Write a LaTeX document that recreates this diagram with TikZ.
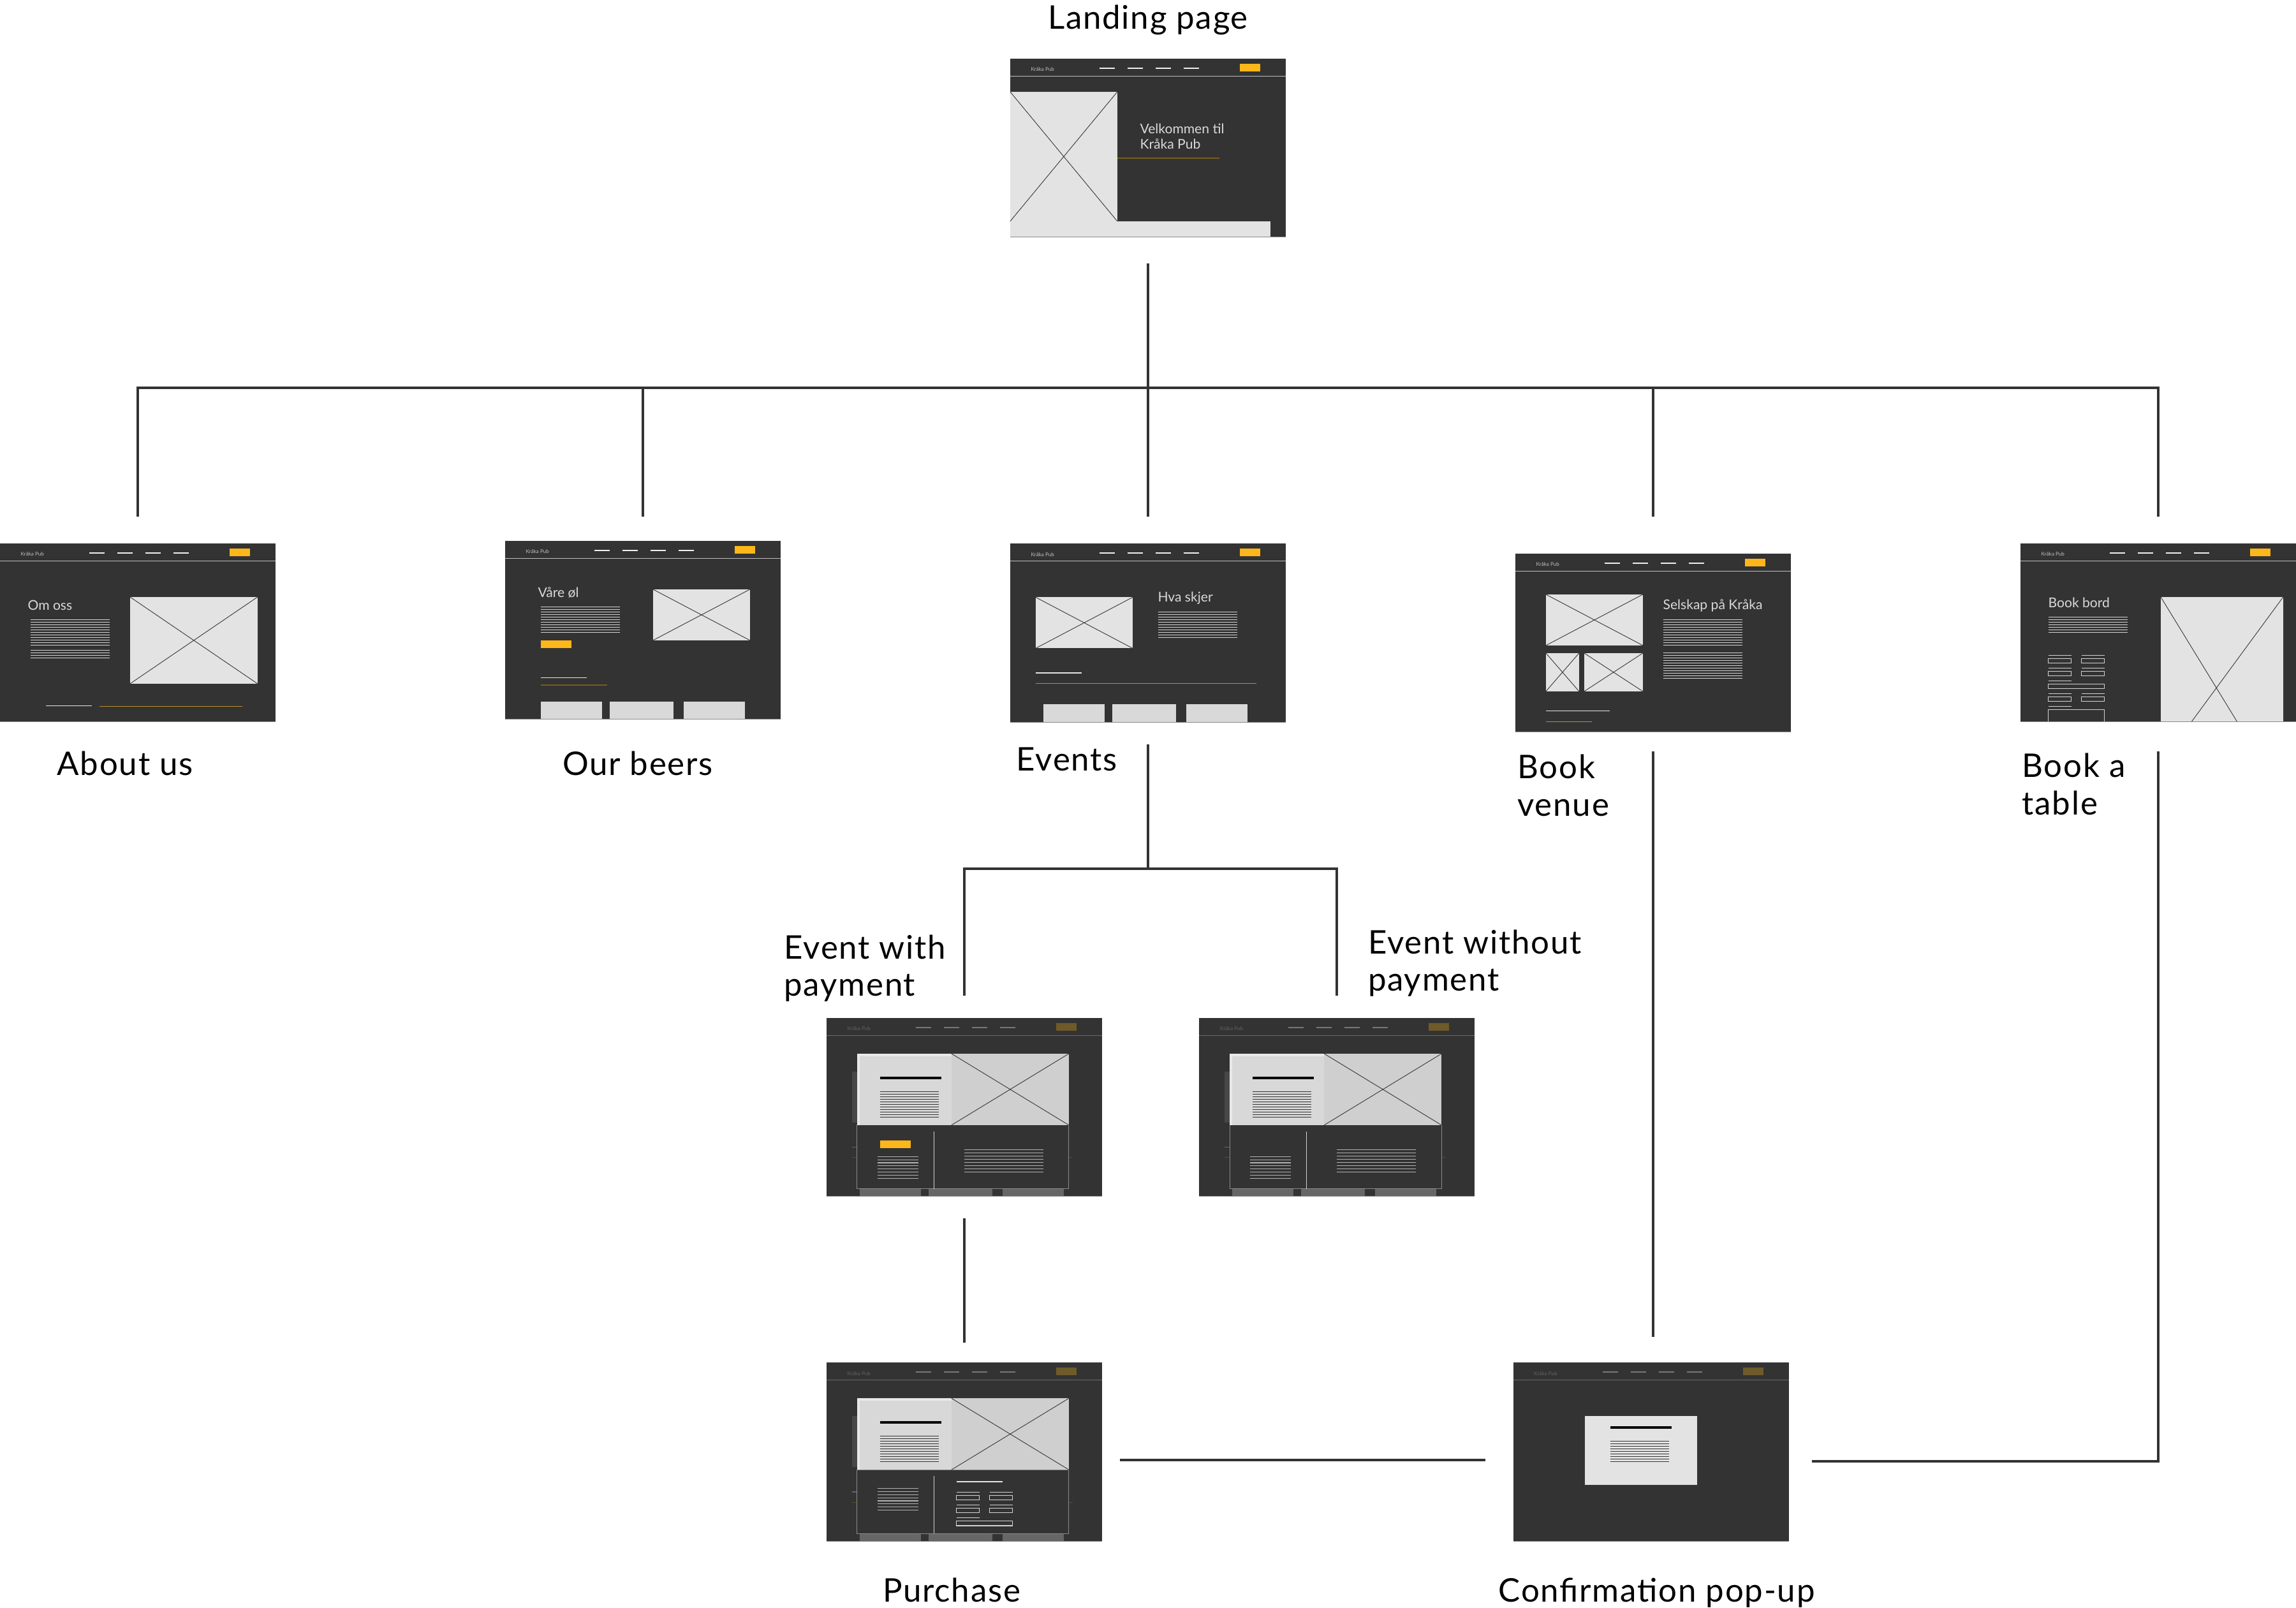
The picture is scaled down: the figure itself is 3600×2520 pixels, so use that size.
\documentclass[tikz,border=0pt]{standalone}
\usepackage{fontspec}
\setmainfont{Lato}
\newfontfamily\lblfont{Lato}[LetterSpace=3.5]
\usepackage{tikz}
\usetikzlibrary{positioning, calc}
\definecolor{wfbg}{HTML}{333333}
\definecolor{imgfill}{HTML}{E3E3E3}
\definecolor{boxfill}{HTML}{D9D9D9}
\definecolor{lightline}{HTML}{D4D4D4}
\definecolor{amber}{HTML}{FDB71A}
\definecolor{goldbright}{HTML}{B98B2B}
\definecolor{golddark}{HTML}{7A5C1F}
\definecolor{edgegray}{HTML}{8A8A8A}
\definecolor{linkgray}{HTML}{333333}
\definecolor{modalleft}{HTML}{D8D8D8}
\definecolor{modalright}{HTML}{CFCFCF}
\definecolor{modaledge}{HTML}{E8E8E8}
\definecolor{dimpanel}{HTML}{474747}
\definecolor{dimbox}{HTML}{666666}
\definecolor{dimgold}{HTML}{5E4B25}
\definecolor{dimamber}{HTML}{6E5A2A}

% nav bar colours: normal page / page behind a pop-up
\newcommand{\brightnav}{\colorlet{brandc}{black!25}\colorlet{menuc}{black!6}%
  \colorlet{btnc}{amber}\colorlet{sepc}{black!25}}
\newcommand{\dimnav}{\colorlet{brandc}{black!62}\colorlet{menuc}{black!53}%
  \colorlet{btnc}{dimamber}\colorlet{sepc}{black!58}}

% wireframe pieces (coordinates in px from the frame's top left corner)
\newcommand{\wfnav}[1]{%
  \node[brand] (#1-brand) at (32,17) {Kråka Pub};
  \foreach \mx in {140,184,228,272}
    \draw[menuc, line width=0.5pt] (\mx,14.7) -- ++(24,0);
  \fill[btnc] (360,8) rectangle (392,20);
  \draw[sepc, line width=0.25pt] (0,27.3) -- (432,27.3);
  \draw[edgegray, line width=0.3pt] (0,280) -- (432,280);
}
\newcommand{\ximg}[4]{%
  \fill[imgfill] (#1,#2) rectangle (#3,#4);
  \draw[xline] (#1,#2) -- (#3,#4) (#1,#4) -- (#3,#2);
}
\newcommand{\txtlines}[6][tline]{%
  \foreach \k in {1,...,#6}
    \draw[#1] (#2,{#4+(\k-1)*#5}) -- (#3,{#4+(\k-1)*#5});
}
\newcommand{\fieldpair}[2]{%
  \draw[fline] (#1,#2) -- ++(36,0) ({#1+52},#2) -- ++(36,0);
  \draw[fline] (#1,{#2+5.3}) rectangle ++(36,6.7) ({#1+52},{#2+5.3}) rectangle ++(36,6.7);
}
\newcommand{\fieldwide}[3]{%
  \draw[fline] (#1,#2) -- ++(36,0);
  \draw[fline] (#1,{#2+5}) rectangle ++(88,#3);
}
\newcommand{\wfmodal}{%
  % page behind
  \fill[dimpanel] (40,84) rectangle (48,164);
  \draw[black!60, line width=0.45pt] (40,202.7) -- (48,202.7);
  \draw[dimgold, line width=0.3pt] (40,219) -- (386,219);
  \foreach \bx/\bw in {52/148,160/260,276/372}
    \fill[dimbox] (\bx,268) rectangle (\bw,280);
  % pop-up
  \filldraw[fill=wfbg, draw=edgegray, line width=0.3pt] (48,168) rectangle (380,268);
  \fill[modaledge] (48,56) rectangle (196,168);
  \fill[modalleft] (52,60) rectangle (196,168);
  \fill[modalright] (196,56) rectangle (380,168);
  \draw[xline] (196,56) -- (380,168) (196,168) -- (380,56);
  \fill[black] (84,92) rectangle (180,96);
  \txtlines[dline]{84}{176}{115.3}{4}{11}
  \draw[lightline, line width=0.3pt] (168.3,178) -- (168.3,268);
}

\begin{document}
\begin{tikzpicture}[
  x=0.01cm, y=-0.01cm,
  frame/.style={rectangle, fill=wfbg, inner sep=0, outer sep=0,
                minimum width=4.32cm, minimum height=2.8cm},
  lbl/.style={font=\lblfont\fontsize{14.5}{16.6}\selectfont, inner sep=0, align=left},
  brand/.style={font=\fontsize{2.3}{3}\selectfont, text=brandc, inner sep=0, anchor=west},
  wftitle/.style={font=\fontsize{6}{6.8}\selectfont, text=black!15, inner sep=0,
                  anchor=west, align=left},
  xline/.style={draw=black!80, line width=0.25pt},
  tline/.style={draw=lightline, line width=0.3pt},
  dline/.style={draw=black!80, line width=0.35pt},
  mline/.style={draw=black!30, line width=0.3pt},
  fline/.style={draw=lightline, line width=0.3pt},
  wfline/.style={draw=black!10, line width=0.45pt},
  link/.style={draw=linkgray, line width=1.2pt}
]
  \useasboundingbox (0,0) rectangle (3600,2520);

  % ── Row 1: Landing page ────────────────────────────────────────────────────
  \node[frame] (lp) at (1800,232) {};
  \begin{scope}[shift={(lp.north west)}]
    \brightnav
    \ximg{0}{52}{168}{255}
    \fill[imgfill] (0,255) rectangle (408,280);
    \node[wftitle] (lp-title) at (203,122) {Velkommen til\\Kråka Pub};
    \draw[golddark, line width=0.5pt] (168,156) -- (328,156);
    \wfnav{lp}
  \end{scope}

  % ── Row 2: main pages ──────────────────────────────────────────────────────
  \node[frame] (au) at (216,992) {};
  \begin{scope}[shift={(au.north west)}]
    \brightnav
    \node[wftitle] (au-title) at (43,97) {Om oss};
    \txtlines{48}{172}{119.3}{4}{11}
    \txtlines{48}{172}{167.3}{4}{4}
    \ximg{204}{84}{404}{220}
    \draw[wfline] (72,254.7) -- (144,254.7);
    \draw[goldbright, line width=0.3pt] (156,255.3) -- (380,255.3);
    \wfnav{au}
  \end{scope}

  \node[frame] (ob) at (1008,988) {};
  \begin{scope}[shift={(ob.north west)}]
    \brightnav
    \node[wftitle] (ob-title) at (51,81) {Våre øl};
    \txtlines{56}{180}{103.3}{4}{11}
    \fill[amber] (56,156) rectangle (104,168);
    \ximg{232}{76}{384}{156}
    \draw[wfline] (56,214.7) -- (128,214.7);
    \draw[golddark, line width=0.5pt] (56,226) -- (160,226);
    \foreach \bx/\bw in {56/152,164/264,280/376}
      \fill[boxfill] (\bx,252) rectangle (\bw,280);
    \wfnav{ob}
  \end{scope}

  \node[frame, below=4.8cm of lp] (ev) {};
  \begin{scope}[shift={(ev.north west)}]
    \brightnav
    \ximg{40}{84}{192}{164}
    \node[wftitle] (ev-title) at (231,85) {Hva skjer};
    \txtlines{232}{356}{107}{4}{11}
    \draw[wfline] (40,202.7) -- (112,202.7);
    \draw[goldbright, line width=0.3pt] (40,219) -- (386,219);
    \foreach \bx/\bw in {52/148,160/260,276/372}
      \fill[boxfill] (\bx,252) rectangle (\bw,280);
    \wfnav{ev}
  \end{scope}

  \node[frame] (bv) at (2592,1008) {};
  \begin{scope}[shift={(bv.north west)}]
    \brightnav
    \ximg{48}{64}{200}{144}
    \ximg{48}{156}{100}{216}
    \ximg{108}{156}{200}{216}
    \node[wftitle] (bv-title) at (231,81) {Selskap på Kråka};
    \txtlines{232}{356}{103.3}{4}{11}
    \txtlines{232}{356}{155.3}{4}{11}
    \draw[wfline] (48,246.7) -- (148,246.7);
    \draw[goldbright, line width=0.3pt] (48,263.3) -- (120,263.3);
    \wfnav{bv}
  \end{scope}

  \node[frame] (bt) at (3384,992) {};
  \begin{scope}[shift={(bt.north west)}]
    \brightnav
    \node[wftitle] (bt-title) at (43,93) {Book bord};
    \txtlines{44}{168}{115.3}{4}{7}
    \fieldpair{44}{175.3}
    \fieldpair{44}{195.3}
    \fieldwide{44}{215.3}{7}
    \fieldpair{44}{235.3}
    \fieldwide{44}{255.3}{19.7}
    \fill[imgfill] (220,84) rectangle (412,280);
    \draw[xline] (220,84) -- (340,280) (412,84) -- (268,280);
    \wfnav{bt}
  \end{scope}

  % ── Row 3: event pages ─────────────────────────────────────────────────────
  \node[frame] (ewp) at (1512,1736) {};
  \begin{scope}[shift={(ewp.north west)}]
    \wfmodal
    \fill[amber] (84,192) rectangle (132,204);
    \txtlines[mline]{80}{144}{217.3}{4.86}{8}
    \txtlines[mline]{216}{340}{207}{5}{8}
    \dimnav
    \wfnav{ewp}
  \end{scope}

  \node[frame, right=1.52cm of ewp] (ewo) {};
  \begin{scope}[shift={(ewo.north west)}]
    \wfmodal
    \txtlines[mline]{80}{144}{217.3}{4.86}{8}
    \txtlines[mline]{216}{340}{207}{5}{8}
    \dimnav
    \wfnav{ewo}
  \end{scope}

  % ── Row 4: purchase and confirmation ───────────────────────────────────────
  \node[frame, below=2.6cm of ewp] (pu) {};
  \begin{scope}[shift={(pu.north west)}]
    \wfmodal
    \txtlines[mline]{80}{144}{197.3}{4.86}{8}
    \draw[wfline, line width=0.6pt] (204,186.7) -- (276,186.7);
    \fieldpair{204}{203.3}
    \fieldpair{204}{223.3}
    \fieldwide{204}{243.3}{7.4}
    \dimnav
    \wfnav{pu}
  \end{scope}

  \node[frame, right=6.44cm of pu] (cp) {};
  \begin{scope}[shift={(cp.north west)}]
    \fill[imgfill] (112,84) rectangle (288,192);
    \fill[black] (152,100) rectangle (248,104);
    \txtlines[dline]{152}{244}{123.3}{4}{9}
    \dimnav
    \wfnav{cp}
  \end{scope}

  % ── Labels ─────────────────────────────────────────────────────────────────
  \node[lbl, anchor=base] (lp-lbl) at ([yshift=0.46cm]lp.north) {Landing page};
  \node[lbl, anchor=base west] (au-lbl) at ([shift={(0.89cm,-0.83cm)}]au.south west) {About us};
  \node[lbl, anchor=base] (ob-lbl) at ([shift={(-0.08cm,-0.87cm)}]ob.south) {Our beers};
  \node[lbl, anchor=base west] (ev-lbl) at ([shift={(0.09cm,-0.76cm)}]ev.south west) {Events};
  \node[lbl, anchor=base west] (bv-lbl) at ([shift={(0.03cm,-1.31cm)}]bv.south west) {Book\\venue};
  \node[lbl, anchor=base west] (bt-lbl) at ([shift={(0.02cm,-1.45cm)}]bt.south west) {Book a\\table};
  \node[lbl, anchor=base west] (ewp-lbl) at ([shift={(-0.67cm,0.34cm)}]ewp.north west) {Event with\\payment};
  \node[lbl, anchor=base west] (ewo-lbl) at ([shift={(2.64cm,0.42cm)}]ewo.north west) {Event without\\payment};
  \node[lbl, anchor=base] (pu-lbl) at ([shift={(-0.2cm,-0.95cm)}]pu.south) {Purchase};
  \node[lbl, anchor=base] (cp-lbl) at ([shift={(0.09cm,-0.95cm)}]cp.south) {Confirmation pop-up};

  % ── Connectors ─────────────────────────────────────────────────────────────
  \coordinate (bus) at (0,608);
  \coordinate (drop) at (0,810);
  \coordinate (evbus) at (0,1362);
  \coordinate (evdrop) at (0,1561);

  \draw[link] ([yshift=-0.41cm]lp.south) -- (lp.south |- bus);
  \foreach \n in {au,ob,ev,bv,bt}
    \draw[link] (lp.south |- bus) -| (\n.north |- drop);
  \draw[link] ([yshift=-0.34cm]ev.south) -- (ev.south |- evbus);
  \foreach \n in {ewp,ewo}
    \draw[link] (ev.south |- evbus) -| (\n.north |- evdrop);
  \draw[link, shorten <=0.34cm, shorten >=0.31cm] (ewp.south) -- (pu.north);
  \draw[link, shorten <=0.28cm, shorten >=0.44cm] ([yshift=-0.13cm]pu.east) -- ([yshift=-0.13cm]cp.west);
  \draw[link, shorten <=0.30cm, shorten >=0.40cm] (bv.south) -- (bv.south |- cp.north);
  \draw[link, shorten <=0.46cm, shorten >=0.36cm] (bt.south) |- ([yshift=-0.15cm]cp.east);
\end{tikzpicture}
\end{document}
